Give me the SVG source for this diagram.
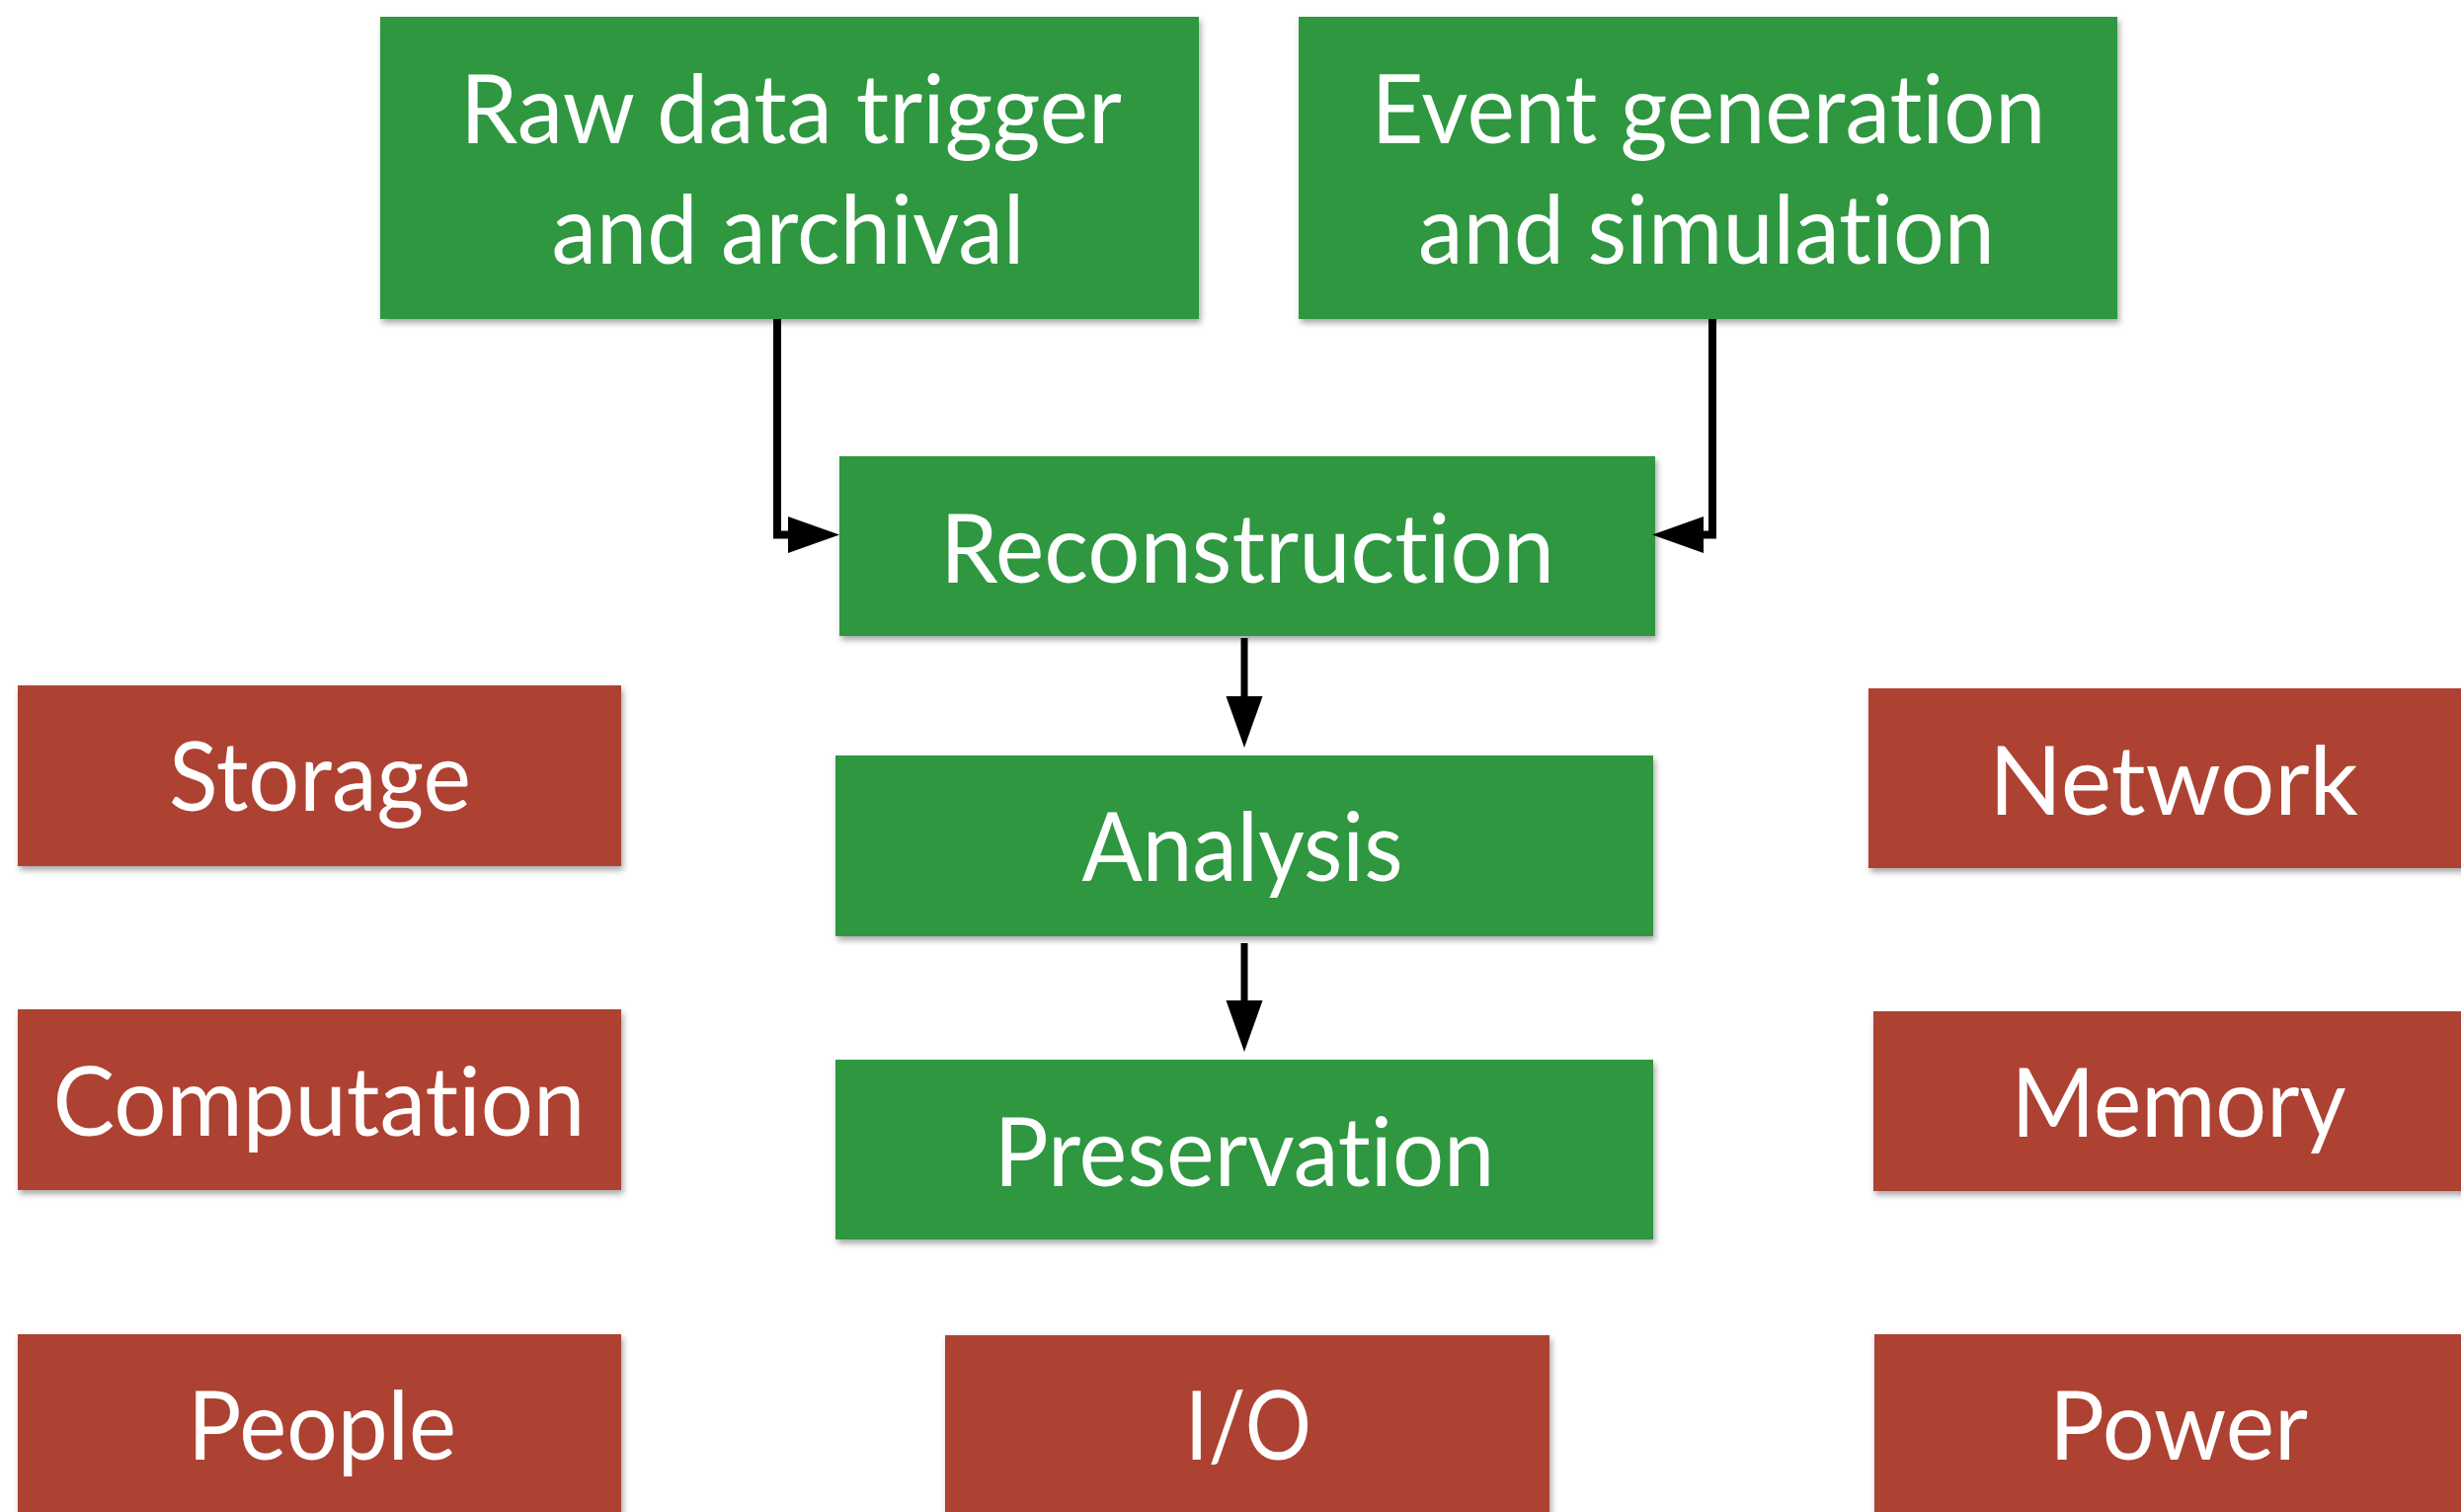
<svg xmlns="http://www.w3.org/2000/svg" width="2492" height="1531" viewBox="0 0 2492 1531">
  <style>
    .stage rect { fill: #2f9741; filter: url(#shadow); }
    .resource rect { fill: #ad4333; filter: url(#shadow); }
    text { font-family: Lato, "Noto Sans", "Liberation Sans", sans-serif; font-size: 96px; fill: #ffffff; text-anchor: middle; font-variant-ligatures: none; font-feature-settings: "liga" 0, "clig" 0; }
    .wire { fill: none; stroke: #000000; stroke-linejoin: miter; }
    .head { fill: #000000; }
  </style>
  <defs>
    <filter id="shadow" x="-5%" y="-10%" width="115%" height="130%">
      <feDropShadow dx="2" dy="4" stdDeviation="3" flood-color="#000000" flood-opacity="0.35"/>
    </filter>
    <!-- arrowhead pointing along +x, tip at the origin -->
    <path id="arrowhead" class="head" d="M0,0 L-52,-18.5 L-52,18.5 Z"/>
  </defs>

  <rect width="2492" height="1531" fill="#ffffff"/>

  <!-- processing stages -->
  <g id="raw-data" class="stage">
    <rect x="385" y="17" width="829" height="306"/>
    <text x="801" y="145" textLength="670" lengthAdjust="spacingAndGlyphs">Raw data trigger</text>
    <text x="798" y="267" textLength="479" lengthAdjust="spacingAndGlyphs">and archival</text>
  </g>
  <g id="event-generation" class="stage">
    <rect x="1315" y="17" width="829" height="306"/>
    <text x="1730" y="145" textLength="683" lengthAdjust="spacingAndGlyphs">Event generation</text>
    <text x="1728" y="267" textLength="584" lengthAdjust="spacingAndGlyphs">and simulation</text>
  </g>
  <g id="reconstruction" class="stage">
    <rect x="850" y="462" width="826" height="182"/>
    <text x="1263" y="590" textLength="622" lengthAdjust="spacingAndGlyphs">Reconstruction</text>
  </g>
  <g id="analysis" class="stage">
    <rect x="846" y="765" width="828" height="183"/>
    <text x="1258" y="892" textLength="325" lengthAdjust="spacingAndGlyphs">Analysis</text>
  </g>
  <g id="preservation" class="stage">
    <rect x="846" y="1073" width="828" height="182"/>
    <text x="1260" y="1201" textLength="507" lengthAdjust="spacingAndGlyphs">Preservation</text>
  </g>

  <!-- resources -->
  <g id="storage" class="resource">
    <rect x="18" y="694" width="611" height="183"/>
    <text x="324" y="821" textLength="306" lengthAdjust="spacingAndGlyphs">Storage</text>
  </g>
  <g id="computation" class="resource">
    <rect x="18" y="1022" width="611" height="183"/>
    <text x="323" y="1150" textLength="539" lengthAdjust="spacingAndGlyphs">Computation</text>
  </g>
  <g id="people" class="resource">
    <rect x="18" y="1351" width="611" height="200"/>
    <text x="326" y="1478" textLength="272" lengthAdjust="spacingAndGlyphs">People</text>
  </g>
  <g id="io" class="resource">
    <rect x="957" y="1352" width="612" height="200"/>
    <text x="1264" y="1478" textLength="128" lengthAdjust="spacingAndGlyphs">I/O</text>
  </g>
  <g id="network" class="resource">
    <rect x="1892" y="697" width="640" height="182"/>
    <text x="2201" y="825" textLength="374" lengthAdjust="spacingAndGlyphs">Network</text>
  </g>
  <g id="memory" class="resource">
    <rect x="1897" y="1024" width="640" height="182"/>
    <text x="2206" y="1151" textLength="339" lengthAdjust="spacingAndGlyphs">Memory</text>
  </g>
  <g id="power" class="resource">
    <rect x="1898" y="1351" width="640" height="200"/>
    <text x="2206" y="1478" textLength="262" lengthAdjust="spacingAndGlyphs">Power</text>
  </g>

  <!-- connectors -->
  <g id="connectors">
    <path class="wire" stroke-width="8" d="M787,323 V541.5 H805"/>
    <use href="#arrowhead" transform="translate(850,541.5)"/>
    <path class="wire" stroke-width="8" d="M1734,323 V541.5 H1718"/>
    <use href="#arrowhead" transform="translate(1673,541.5) rotate(180)"/>
    <path class="wire" stroke-width="7" d="M1260,646 V712"/>
    <use href="#arrowhead" transform="translate(1260,757) rotate(90)"/>
    <path class="wire" stroke-width="7" d="M1260,955 V1020"/>
    <use href="#arrowhead" transform="translate(1260,1065) rotate(90)"/>
  </g>
</svg>
